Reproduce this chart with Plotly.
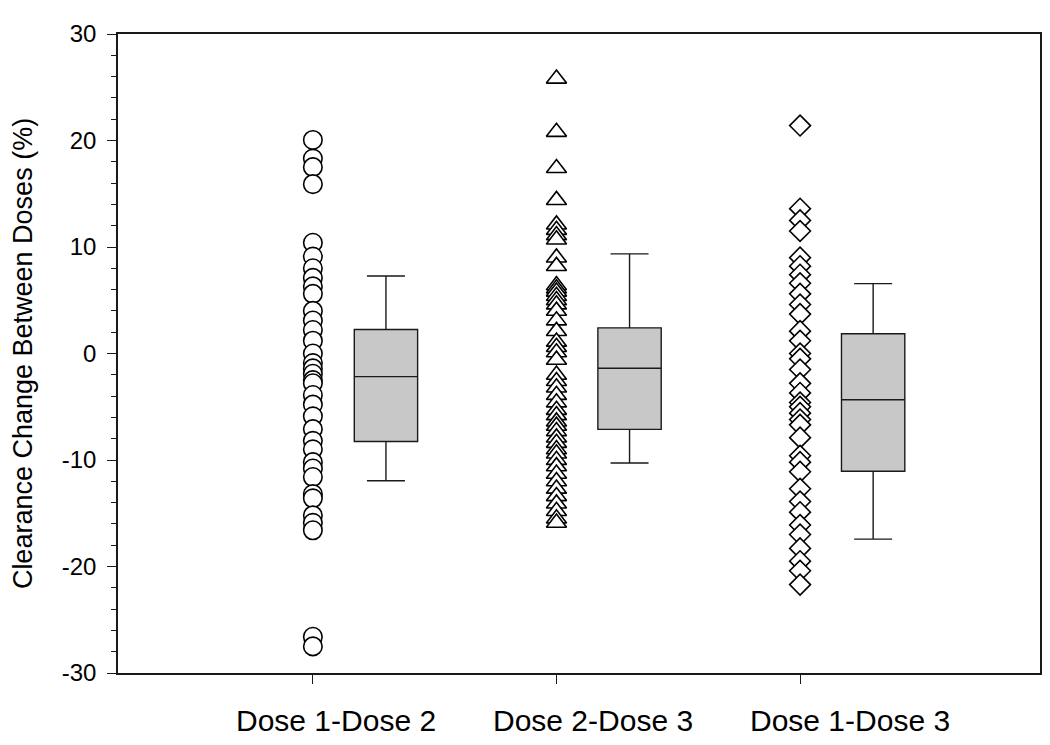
import plotly.graph_objects as go

categories = ["Dose 1-Dose 2", "Dose 2-Dose 3", "Dose 1-Dose 3"]

d12 = [20.05, 18.3, 17.5, 15.9, 10.4, 9.1, 8.0, 7.1, 6.3, 5.6, 4.0, 3.1, 2.2, 1.2,
       0.0, -0.9, -1.4, -1.9, -2.5, -2.8, -3.9, -4.8, -5.9, -7.1, -8.2, -9.0, -10.2,
       -10.8, -11.6, -13.2, -13.6, -15.2, -15.9, -16.6, -26.6, -27.5]
d23 = [25.8, 20.8, 17.4, 14.4, 12.1, 11.6, 11.1, 10.7, 9.0, 8.2, 6.4, 6.1, 5.8, 5.4,
       5.0, 4.6, 4.0, 3.1, 2.1, 1.1, 0.6, 0.1, -0.6, -2.0, -2.6, -3.2, -3.9, -4.6,
       -5.3, -5.8, -6.4, -6.8, -7.3, -7.9, -8.4, -9.0, -9.4, -10.0, -10.6, -11.3,
       -12.0, -12.7, -13.4, -14.1, -14.8, -15.5, -15.9]
d13 = [21.4, 13.6, 12.5, 11.5, 9.0, 8.2, 7.4, 6.6, 5.6, 4.6, 3.7, 2.1, 1.2, 0.0,
       -0.5, -1.5, -2.8, -3.7, -4.6, -5.0, -5.6, -6.2, -6.7, -7.9, -9.6, -10.2,
       -11.1, -12.7, -13.9, -14.9, -16.1, -17.0, -18.3, -19.5, -20.4, -21.7]

# box summary (10th/90th percentile whiskers)
box_q1 = [-8.26, -7.12, -11.05]
box_median = [-2.17, -1.39, -4.34]
box_q3 = [2.26, 2.41, 1.86]
box_low = [-11.95, -10.28, -17.43]
box_high = [7.27, 9.35, 6.56]

y_tickvals = [-30, -20, -10, 0, 10, 20, 30]
y_ticktext = ["-30", "-20", "-10", "0", "10", "20", "30"]

cat_pos = [1, 2, 3]
label_pos = [1.095, 2.151, 3.206]   # category labels sit slightly right of ticks
box_offset = 0.3
symbols = ["circle", "triangle-up", "diamond"]
sizes = [18.5, 17.5, 16]
series = [d12, d23, d13]

fig = go.Figure()

for i, vals in enumerate(series):
    fig.add_trace(go.Scatter(
        x=[cat_pos[i]] * len(vals), y=vals, mode="markers",
        marker=dict(symbol=symbols[i], size=sizes[i], color="white",
                    line=dict(color="black", width=1.6)),
        showlegend=False, hoverinfo="y"))

for i in range(3):
    fig.add_trace(go.Box(
        x=[cat_pos[i] + box_offset], q1=[box_q1[i]], median=[box_median[i]],
        q3=[box_q3[i]], lowerfence=[box_low[i]], upperfence=[box_high[i]],
        width=0.26, whiskerwidth=0.6, fillcolor="#c8c8c8",
        line=dict(color="#1a1a1a", width=1.4), boxpoints=False,
        showlegend=False))

for i, name in enumerate(categories):
    fig.add_annotation(x=label_pos[i], xref="x", y=0, yref="paper",
                       text=name, showarrow=False, xanchor="center",
                       yanchor="middle", yshift=-47,
                       font=dict(size=30, color="#000000"))

fig.update_layout(
    width=1050, height=745,
    margin=dict(l=110, r=18, t=19, b=80),
    plot_bgcolor="white", paper_bgcolor="white",
    font=dict(family="Liberation Sans, Arial, sans-serif", color="#000000"),
    xaxis=dict(range=[0.2, 3.985], tickmode="array", tickvals=cat_pos,
               ticktext=["", "", ""], ticks="outside", ticklen=9, tickwidth=1.4,
               tickcolor="#1a1a1a", showline=True, linecolor="#1a1a1a", linewidth=1.6,
               mirror=True, showgrid=False, zeroline=False),
    yaxis=dict(range=[-30, 30], tickmode="array", tickvals=y_tickvals,
               ticktext=y_ticktext,
               ticks="outside", ticklen=9, tickwidth=1.4, tickcolor="#1a1a1a",
               minor=dict(dtick=2, tick0=0, ticks="outside", ticklen=5, tickwidth=1.4,
                          tickcolor="#1a1a1a", showgrid=False),
               showline=True, linecolor="#1a1a1a", linewidth=1.6, mirror=True,
               showgrid=False, zeroline=False, tickfont=dict(size=24),
               ticklabelstandoff=6,
               title=dict(text="Clearance Change Between Doses (%)",
                          font=dict(size=27), standoff=22)),
)

fig.write_html("out.html")
